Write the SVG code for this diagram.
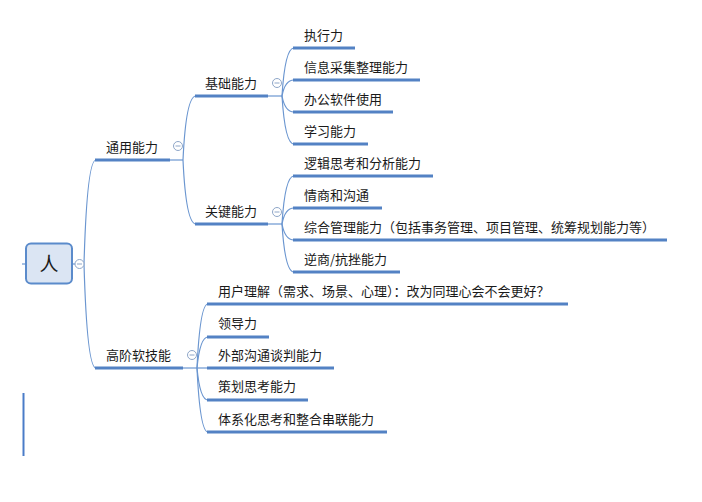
<svg xmlns="http://www.w3.org/2000/svg" width="702" height="502" viewBox="0 0 702 502">
<style>
text{font-family:"Noto Sans CJK SC","Microsoft YaHei",sans-serif;font-size:13px;fill:#1a1a1a}
.ul{stroke:#5382c4;stroke-width:3;fill:none;stroke-linecap:butt}
.cv{stroke:#6b96d0;stroke-width:1.2;fill:none}
.cc{fill:#fff;stroke:#8ea6c8;stroke-width:1}
.cm{stroke:#8ea6c8;stroke-width:1}
</style>
<rect width="702" height="502" fill="#fff"/>
<g id="connectors">
<path class="cv" d="M84,264 Q87,160 96,160"/>
<path class="cv" d="M84,264 Q87,368 96,368"/>
<path class="cv" d="M170,160 L183,160"/>
<path class="cv" d="M183,160 Q186,96 196,96"/>
<path class="cv" d="M183,160 Q186,224 196,224"/>
<path class="cv" d="M183,368 L197,368"/>
<path class="cv" d="M197,368 Q200,304 208,304"/>
<path class="cv" d="M197,368 Q200,337 208,337"/>
<path class="cv" d="M197,368 L208,368"/>
<path class="cv" d="M197,368 Q200,400 208,400"/>
<path class="cv" d="M197,368 Q200,432 208,432"/>
<path class="cv" d="M268,96 L282,96"/>
<path class="cv" d="M282,96 Q285,48 294,48"/>
<path class="cv" d="M282,96 Q285,80 294,80"/>
<path class="cv" d="M282,96 Q285,112 294,112"/>
<path class="cv" d="M282,96 Q285,144 294,144"/>
<path class="cv" d="M268,224 L282,224"/>
<path class="cv" d="M282,224 Q285,176 294,176"/>
<path class="cv" d="M282,224 Q285,208 294,208"/>
<path class="cv" d="M282,224 Q285,240 294,240"/>
<path class="cv" d="M282,224 Q285,272 294,272"/>
<line x1="23.5" y1="393" x2="23.5" y2="456" stroke="#4a7cc8" stroke-width="2"/>
</g>
<g id="root">
<line x1="22" y1="264" x2="26" y2="264" stroke="#6b96d0" stroke-width="1.2"/>
<line x1="72" y1="264" x2="75" y2="264" stroke="#6b96d0" stroke-width="1.2"/>
<rect x="26" y="243.5" width="46" height="40" rx="5" fill="#dbe5f3" stroke="#5b8bcb" stroke-width="2"/>
<text x="49" y="271" text-anchor="middle" style="font-size:19px">人</text>
<circle class="cc" cx="79.5" cy="264" r="4.5"/><line class="cm" x1="77" y1="264" x2="82" y2="264"/>
</g>
<g id="n-tongyong">
<line class="ul" x1="95" y1="160" x2="170" y2="160"/>
<text x="106" y="152">通用能力</text>
<circle class="cc" cx="178" cy="146" r="4.5"/><line class="cm" x1="175.5" y1="146" x2="180.5" y2="146"/>
</g>
<g id="n-gaojie">
<line class="ul" x1="95" y1="368" x2="183" y2="368"/>
<text x="106" y="360">高阶软技能</text>
<circle class="cc" cx="192" cy="355" r="4.5"/><line class="cm" x1="189.5" y1="355" x2="194.5" y2="355"/>
</g>
<g id="n-jichu">
<line class="ul" x1="195" y1="96" x2="268" y2="96"/>
<text x="205" y="88">基础能力</text>
<circle class="cc" cx="277" cy="83" r="4.5"/><line class="cm" x1="274.5" y1="83" x2="279.5" y2="83"/>
</g>
<g id="n-guanjian">
<line class="ul" x1="195" y1="224" x2="268" y2="224"/>
<text x="205" y="216">关键能力</text>
<circle class="cc" cx="277" cy="212" r="4.5"/><line class="cm" x1="274.5" y1="212" x2="279.5" y2="212"/>
</g>
<g id="l1"><line class="ul" x1="293" y1="48" x2="355" y2="48"/><text x="304" y="40">执行力</text></g>
<g id="l2"><line class="ul" x1="293" y1="80" x2="420" y2="80"/><text x="304" y="72">信息采集整理能力</text></g>
<g id="l3"><line class="ul" x1="293" y1="112" x2="393" y2="112"/><text x="304" y="104">办公软件使用</text></g>
<g id="l4"><line class="ul" x1="293" y1="144" x2="368" y2="144"/><text x="304" y="136">学习能力</text></g>
<g id="l5"><line class="ul" x1="293" y1="176" x2="433" y2="176"/><text x="304" y="168">逻辑思考和分析能力</text></g>
<g id="l6"><line class="ul" x1="293" y1="208" x2="382" y2="208"/><text x="304" y="200">情商和沟通</text></g>
<g id="l7"><line class="ul" x1="293" y1="240" x2="667" y2="240"/><text x="304" y="232">综合管理能力（包括事务管理、项目管理、统筹规划能力等）</text></g>
<g id="l8"><line class="ul" x1="293" y1="272" x2="400" y2="272"/><text x="304" y="264">逆商/抗挫能力</text></g>
<g id="l9"><line class="ul" x1="207" y1="304" x2="568" y2="304"/><text x="218" y="296">用户理解（需求、场景、心理）：改为同理心会不会更好？</text></g>
<g id="l10"><line class="ul" x1="207" y1="337" x2="269" y2="337"/><text x="218" y="328">领导力</text></g>
<g id="l11"><line class="ul" x1="207" y1="368" x2="334" y2="368"/><text x="218" y="360">外部沟通谈判能力</text></g>
<g id="l12"><line class="ul" x1="207" y1="400" x2="308" y2="400"/><text x="218" y="391">策划思考能力</text></g>
<g id="l13"><line class="ul" x1="207" y1="432" x2="387" y2="432"/><text x="218" y="424">体系化思考和整合串联能力</text></g>
</svg>
